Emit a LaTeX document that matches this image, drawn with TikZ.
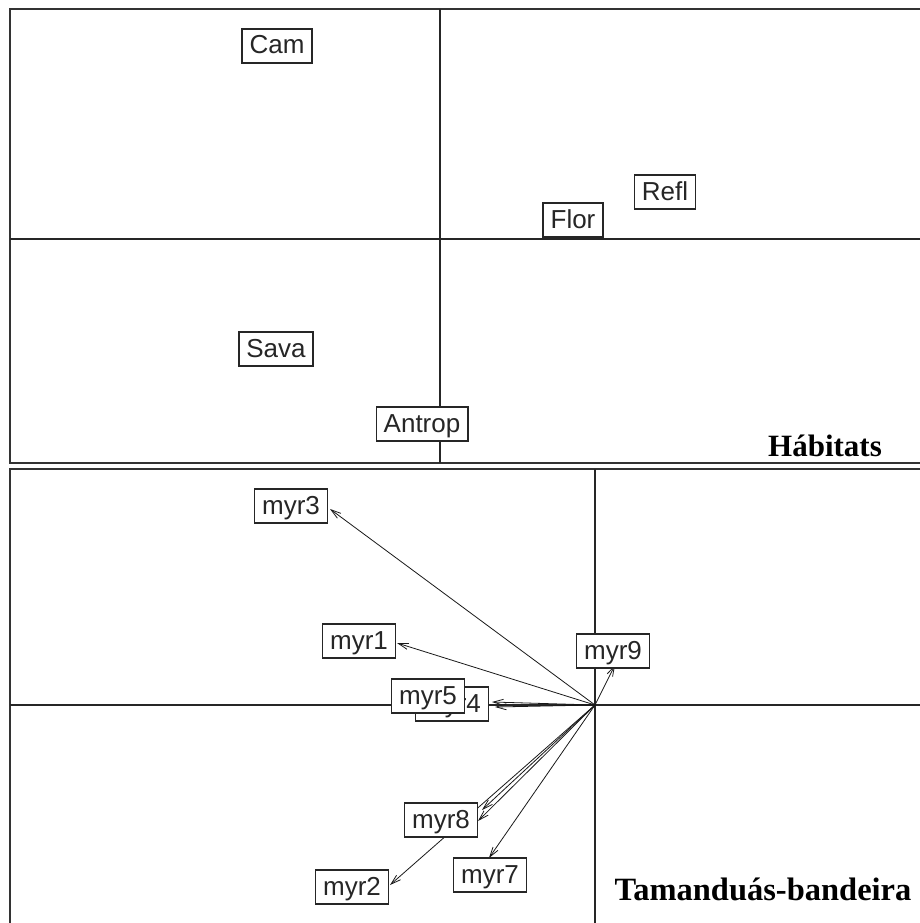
\documentclass[tikz,border=0pt]{standalone}
\usepackage{fontspec}
\setmainfont{Liberation Sans}
\newfontfamily\titlefont{Liberation Serif}
\usetikzlibrary{arrows.meta}
\begin{document}
\begin{tikzpicture}[x=1pt,y=-1pt,
  lab/.style={draw=black!85, fill=white, line width=1.4pt,
    font=\fontsize{26}{26}\selectfont, text=black!85,
    inner xsep=7.5pt, inner ysep=0pt, text height=19pt, text depth=3pt,
    minimum height=34pt},
  ttl/.style={font=\titlefont\bfseries\fontsize{31}{31}\selectfont, anchor=base, text=black},
  frame/.style={line width=2.2pt, draw=black!80},
  axis/.style={line width=1.3pt, draw=black!85},
  arr/.style={line width=0.8pt, draw=black!90, -{Straight Barb[length=10pt,width=6pt,line width=0.8pt]}}
]
\useasboundingbox (0,0) rectangle (920,923);
\fill[white] (0,0) rectangle (920,923);

% ---------- top panel : Habitats ----------
\draw[frame] (921,9) -- (10,9) -- (10,463) -- (921,463);
\draw[axis] (440,9) -- (440,463);
\draw[axis] (10,239) -- (921,239);

\node[lab] (cam)    at (277,46)  {Cam};
\node[lab] (refl)   at (665,192) {Refl};
\node[lab] (flor)   at (573,220) {Flor};
\node[lab] (sava)   at (276,349) {Sava};
\node[lab] (antrop) at (422,424) {Antrop};
\node[ttl] (t1) at (825,456) {Hábitats};

% ---------- bottom panel : Tamanduas ----------
\draw[frame] (921,469) -- (10,469) -- (10,924);
\draw[axis] (595,469) -- (595,924);
\draw[axis] (10,705) -- (921,705);

\coordinate (O)  at (595,705);
\coordinate (e3) at (330,509);
\coordinate (e1) at (397,643);
\coordinate (e4) at (492,702);
\coordinate (e5) at (495,707);
\coordinate (e6) at (482,810);
\coordinate (e8) at (478,821);
\coordinate (e2) at (390,885);
\coordinate (e7) at (489,858);
\coordinate (e9) at (615,665);

\draw[arr] (O) -- (e3);
\draw[arr] (O) -- (e1);
\draw[arr] (O) -- (e4);
\draw[arr] (O) -- (e5);
\draw[arr] (O) -- (e6);
\draw[arr] (O) -- (e8);
\draw[arr] (O) -- (e2);
\draw[arr] (O) -- (e7);
\draw[arr] (O) -- (e9);

\node[lab] (m3) at (291,506) {myr3};
\node[lab] (m1) at (359,641) {myr1};
\node[lab] (m9) at (613,651) {myr9};
\node[lab] (m4) at (452,704) {myr4};
\node[lab] (m5) at (428,696) {myr5};
\node[lab] (m8) at (441,820) {myr8};
\node[lab] (m2) at (352,887) {myr2};
\node[lab] (m7) at (490,875) {myr7};
\node[ttl, font=\titlefont\bfseries\fontsize{32.5}{32.5}\selectfont] (t2) at (763,900) {Tamanduás-bandeira};
\end{tikzpicture}
\end{document}
